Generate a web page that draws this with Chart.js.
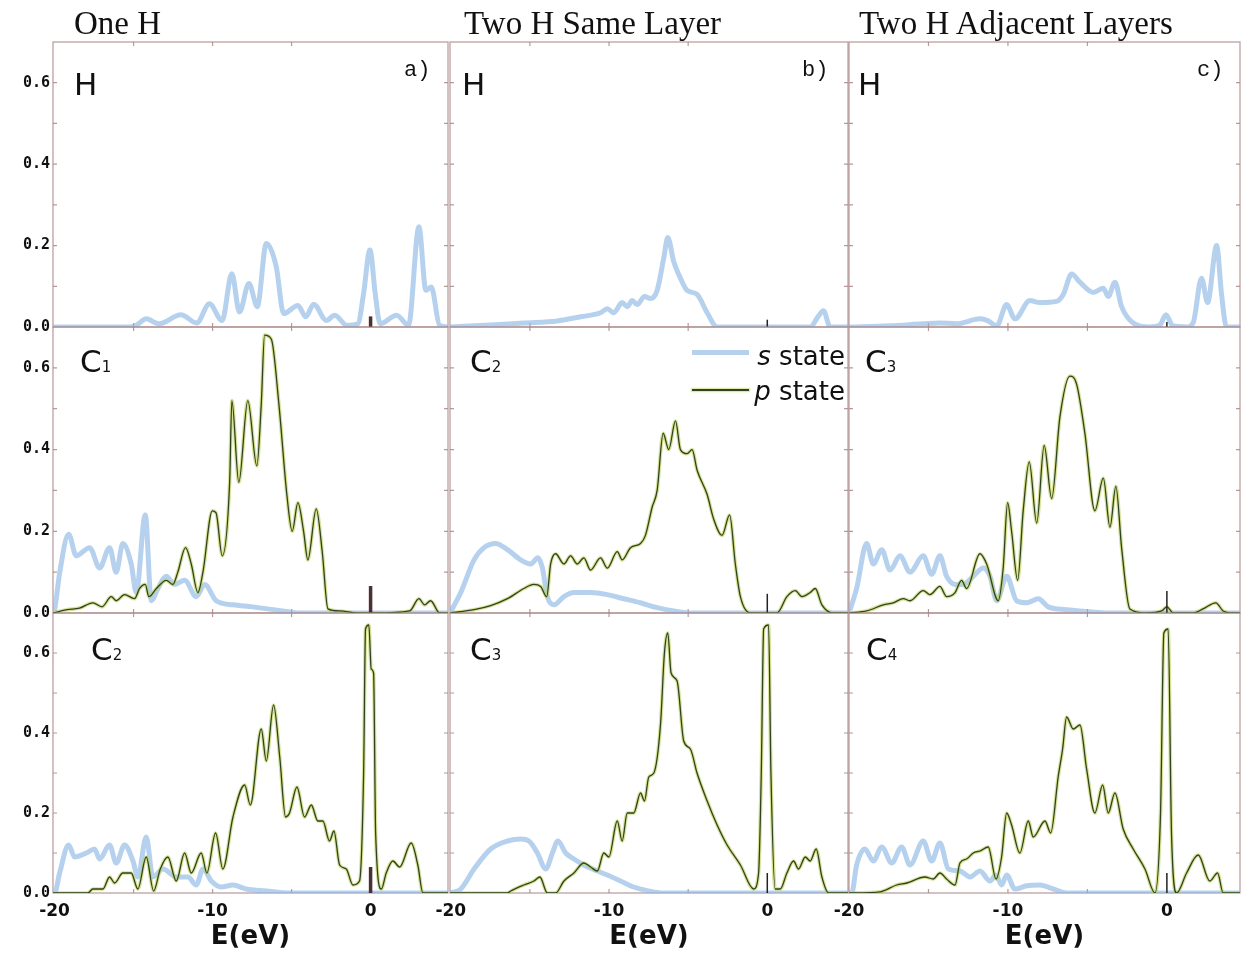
<!DOCTYPE html>
<html>
<head>
<meta charset="utf-8">
<script src="https://cdn.jsdelivr.net/npm/chart.js@4.4.1/dist/chart.umd.min.js"></script>
<style>
  body { margin: 0; width: 1243px; height: 953px; overflow: hidden; background: #fff; position: relative; }
  .box { position: absolute; }
  .title { position: absolute; top: 7px; font-family: "Liberation Serif"; font-size: 33px; line-height: 1; color: #111; white-space: nowrap; }
  .name { position: absolute; font-family: "DejaVu Sans"; font-size: 31px; line-height: 1; color: #111; }
  .name span { font-size: 15px; margin-left: 0; }
  .tag { position: absolute; top: 60px; font-family: "Liberation Mono"; font-size: 22px; line-height: 1; color: #111; }
  .legtxt { position: absolute; right: 398px; font-family: "DejaVu Sans"; font-size: 26px; line-height: 1; color: #111; white-space: nowrap; }
  .legline { position: absolute; left: 692px; width: 57px; }
</style>
</head>
<body>
<script>
// Titles and labels
const colTitles = ['One H', 'Two H Same Layer', 'Two H Adjacent Layers'];
const colTags = ['a)', 'b)', 'c)'];
// panel atom per column, top to bottom: [symbol, subscript]
const panelNames = [
    [['H', ''], ['C', '1'], ['C', '2']],
    [['H', ''], ['C', '2'], ['C', '3']],
    [['H', ''], ['C', '3'], ['C', '4']]
];
const legendNames = [['s', ' state'], ['p', ' state']];

// Axes
const xTicks = [-20, -10, 0];
const xMinor = [-15, -10, -5];
const yTicks = [0, 0.2, 0.4, 0.6];
const yMinor = [0.1, 0.2, 0.3, 0.4, 0.5, 0.6];
const xMin = [-20.1, -20.05, -20];
const xMax = [4.9, 5.1, 4.6];

// Fermi level marker height (col, row)
const fermiTop = [[0.026, 0.066, 0.065], [0.018, 0.047, 0.05], [0.012, 0.054, 0.05]];

// a) One H  -- [E (eV), DOS]
const aH_s = [[-20.1,0],[-15.2,0],[-14.8,0.005],[-14.2,0.02],[-13.4,0.008],[-12.0,0.03],[-11.0,0.01],[-10.2,0.057],[-9.4,0.016],[-8.78,0.131],[-8.3,0.037],[-7.7,0.107],[-7.17,0.05],[-6.6,0.205],[-5.97,0.148],[-5.5,0.033],[-4.6,0.053],[-4.1,0.025],[-3.6,0.056],[-2.8,0.016],[-2.27,0.029],[-1.5,0.004],[-0.8,0.008],[-0.45,0.08],[-0.04,0.189],[0.3,0.08],[0.6,0.008],[1.65,0.029],[2.4,0.004],[3.06,0.246],[3.5,0.09],[3.84,0.098],[4.37,0.004],[4.9,0]];
const aC1_s = [[-20.1,0],[-20,0.008],[-19.68,0.098],[-19.11,0.193],[-18.63,0.14],[-17.78,0.16],[-17.15,0.11],[-16.52,0.16],[-16.1,0.10],[-15.68,0.17],[-15.15,0.12],[-14.83,0.05],[-14.26,0.24],[-13.88,0.03],[-13.46,0.06],[-12.93,0.09],[-12.41,0.07],[-11.77,0.08],[-11.03,0.04],[-10.5,0.07],[-9.77,0.03],[-8.71,0.02],[-7.45,0.015],[-5.57,0.005],[-4.49,0],[4.9,0]];
const aC1_p = [[-20.1,0],[-19.2,0.008],[-18.42,0.012],[-17.58,0.025],[-17.0,0.015],[-16.41,0.04],[-16.1,0.03],[-15.57,0.045],[-14.94,0.035],[-14.62,0.06],[-14.26,0.07],[-14.03,0.04],[-13.56,0.06],[-12.93,0.08],[-12.51,0.07],[-12.2,0.10],[-11.71,0.16],[-11.35,0.12],[-10.93,0.05],[-10.61,0.10],[-10.02,0.25],[-9.78,0.245],[-9.39,0.14],[-8.92,0.32],[-8.78,0.52],[-8.34,0.32],[-7.77,0.52],[-7.2,0.36],[-6.92,0.51],[-6.71,0.68],[-6.28,0.67],[-5.8,0.51],[-5.3,0.29],[-4.96,0.2],[-4.6,0.27],[-4.24,0.2],[-3.97,0.13],[-3.44,0.255],[-3.06,0.15],[-2.7,0.01],[-1.96,0.005],[-0.85,0],[0.36,0],[2.47,0.005],[3.06,0.035],[3.42,0.02],[3.8,0.03],[4.37,0],[4.9,0]];
const aC2_s = [[-20.1,0],[-20,0],[-19.68,0.05],[-19.11,0.12],[-18.73,0.09],[-17.99,0.10],[-17.47,0.11],[-17.15,0.085],[-16.52,0.12],[-16.1,0.075],[-15.57,0.12],[-15.04,0.08],[-14.73,0.04],[-14.2,0.14],[-13.78,0.04],[-13.14,0.06],[-12.3,0.04],[-11.56,0.04],[-11.03,0.02],[-10.61,0.06],[-10.08,0.03],[-9.45,0.015],[-8.71,0.02],[-7.87,0.01],[-6.6,0.005],[-5.13,0],[4.9,0]];
const aC2_p = [[-20.1,0],[-17.89,0],[-17.58,0.01],[-16.94,0.01],[-16.52,0.04],[-16.2,0.025],[-15.68,0.05],[-15.15,0.05],[-14.73,0.01],[-14.2,0.09],[-13.73,0.005],[-13.31,0.06],[-12.83,0.09],[-12.3,0.03],[-11.77,0.10],[-11.35,0.05],[-10.72,0.10],[-10.36,0.05],[-9.81,0.15],[-9.35,0.06],[-8.71,0.19],[-7.97,0.27],[-7.61,0.22],[-6.92,0.41],[-6.6,0.33],[-6.14,0.47],[-5.75,0.34],[-5.38,0.19],[-5.13,0.2],[-4.66,0.265],[-4.18,0.19],[-3.75,0.22],[-3.34,0.18],[-3.02,0.18],[-2.6,0.13],[-2.32,0.155],[-1.96,0.07],[-1.54,0.06],[-1.12,0.02],[-0.7,0.03],[-0.44,0.3],[-0.32,0.66],[-0.11,0.67],[0.04,0.56],[0.19,0.55],[0.32,0.15],[0.68,0.01],[0.99,0.05],[1.41,0.08],[1.84,0.065],[2.57,0.125],[2.99,0.07],[3.31,0],[4.9,0]];

// b) Two H same layer
const bH_s = [[-20.05,0],[-17.48,0.005],[-15.38,0.01],[-13.27,0.015],[-11.8,0.025],[-10.54,0.035],[-10.11,0.045],[-9.7,0.035],[-9.17,0.06],[-8.85,0.05],[-8.54,0.065],[-8.22,0.055],[-7.76,0.075],[-7.38,0.07],[-6.96,0.09],[-6.54,0.17],[-6.29,0.22],[-5.91,0.16],[-5.49,0.12],[-5.07,0.09],[-4.44,0.08],[-3.8,0.035],[-3.17,0],[2.71,0],[3.2,0.025],[3.55,0.04],[3.97,0],[5.1,0]];
const bC2_s = [[-20.05,0],[-19.37,0.05],[-18.53,0.13],[-17.9,0.16],[-17.16,0.17],[-16.42,0.155],[-15.58,0.13],[-14.95,0.12],[-14.49,0.135],[-14.21,0.11],[-13.9,0.04],[-13.48,0.02],[-12.85,0.04],[-12.22,0.05],[-11.17,0.05],[-10.11,0.045],[-9.07,0.035],[-8.01,0.025],[-6.96,0.013],[-5.91,0.005],[-4.86,0],[5.1,0]];
const bC2_p = [[-20.05,0],[-18.53,0.008],[-17.48,0.018],[-16.42,0.035],[-15.38,0.06],[-14.75,0.07],[-14.32,0.065],[-13.94,0.04],[-13.69,0.12],[-13.38,0.145],[-12.85,0.12],[-12.43,0.14],[-12.01,0.12],[-11.59,0.135],[-11.17,0.105],[-10.54,0.135],[-10.11,0.11],[-9.48,0.15],[-9.17,0.13],[-8.64,0.16],[-8.01,0.17],[-7.7,0.19],[-7.27,0.26],[-6.96,0.30],[-6.58,0.44],[-6.23,0.40],[-5.8,0.47],[-5.49,0.40],[-5.07,0.39],[-4.75,0.40],[-4.44,0.35],[-3.8,0.29],[-3.39,0.23],[-2.86,0.19],[-2.38,0.24],[-2.02,0.12],[-1.7,0.04],[-1.07,0],[0.61,0],[1.24,0.04],[1.77,0.055],[2.19,0.04],[2.71,0.05],[3.03,0.06],[3.45,0.02],[4.18,0],[5.1,0]];
const bC3_s = [[-20.05,0],[-19.37,0.01],[-18.53,0.06],[-17.48,0.11],[-16.42,0.13],[-15.58,0.135],[-15.06,0.13],[-14.53,0.1],[-14.0,0.06],[-13.58,0.1],[-13.23,0.13],[-12.74,0.1],[-12.22,0.085],[-11.59,0.07],[-10.74,0.055],[-10.11,0.045],[-9.27,0.03],[-8.44,0.015],[-7.59,0.006],[-6.54,0],[5.1,0]];
const bC3_p = [[-20.05,0],[-16.42,0],[-16.21,0.005],[-15.38,0.02],[-14.75,0.03],[-14.37,0.04],[-13.9,0],[-13.38,0],[-12.85,0.03],[-12.22,0.05],[-11.59,0.075],[-11.17,0.065],[-10.74,0.055],[-10.33,0.1],[-10.01,0.09],[-9.48,0.18],[-9.17,0.13],[-8.85,0.2],[-8.44,0.2],[-8.01,0.25],[-7.76,0.23],[-7.49,0.29],[-7.17,0.3],[-6.75,0.42],[-6.5,0.6],[-6.29,0.65],[-6.08,0.55],[-5.7,0.53],[-5.28,0.38],[-4.86,0.36],[-4.44,0.3],[-3.8,0.23],[-3.17,0.17],[-2.54,0.12],[-1.7,0.07],[-0.86,0.01],[-0.55,0.05],[-0.38,0.3],[-0.23,0.66],[0.08,0.67],[0.23,0.3],[0.5,0.01],[0.82,0.01],[1.24,0.05],[1.66,0.08],[1.97,0.06],[2.4,0.09],[2.71,0.08],[3.09,0.11],[3.45,0.04],[3.87,0],[5.1,0]];

// c) Two H adjacent layers
const cH_s = [[-20,0],[-17.42,0.003],[-15.33,0.008],[-14.28,0.01],[-13.23,0.008],[-11.76,0.02],[-11.24,0.015],[-10.71,0.003],[-10.08,0.055],[-9.56,0.02],[-8.62,0.065],[-7.99,0.06],[-6.94,0.063],[-6.52,0.08],[-5.99,0.13],[-5.47,0.11],[-4.64,0.085],[-4.0,0.095],[-3.69,0.075],[-3.27,0.11],[-2.85,0.05],[-2.12,0.01],[-1.07,0],[-0.44,0.005],[-0.06,0.03],[0.36,0.003],[1.24,0],[1.65,0.01],[2.18,0.12],[2.56,0.06],[3.13,0.2],[3.44,0.08],[3.75,0],[4.6,0]];
const cC3_s = [[-20,0],[-19.52,0.06],[-18.89,0.17],[-18.47,0.12],[-17.94,0.155],[-17.42,0.105],[-16.79,0.14],[-16.16,0.1],[-15.33,0.14],[-14.8,0.095],[-14.28,0.14],[-13.86,0.09],[-13.33,0.07],[-12.81,0.07],[-12.18,0.09],[-11.55,0.11],[-11.13,0.09],[-10.71,0.03],[-10.08,0.09],[-9.45,0.03],[-8.82,0.025],[-8.09,0.035],[-7.47,0.015],[-6.31,0.008],[-4.84,0.003],[-3.79,0],[4.6,0]];
const cC3_p = [[-20,0],[-18.89,0.005],[-17.84,0.02],[-17.21,0.025],[-16.58,0.035],[-16.16,0.03],[-15.33,0.055],[-14.91,0.045],[-14.28,0.065],[-13.86,0.04],[-13.33,0.05],[-12.92,0.08],[-12.6,0.06],[-11.76,0.145],[-11.34,0.12],[-10.61,0.03],[-10.3,0.11],[-10.02,0.27],[-9.77,0.2],[-9.39,0.08],[-9.04,0.25],[-8.66,0.37],[-8.19,0.22],[-7.72,0.41],[-7.25,0.28],[-6.73,0.48],[-6.1,0.58],[-5.68,0.56],[-5.16,0.44],[-4.53,0.25],[-4.0,0.33],[-3.58,0.21],[-3.21,0.31],[-2.85,0.16],[-2.33,0.01],[-1.28,0],[-0.33,0.005],[0,0.015],[0.4,0],[1.65,0],[2.28,0.01],[3.08,0.025],[3.54,0.005],[4.17,0],[4.6,0]];
const cC4_s = [[-20,0],[-19.83,0],[-19.52,0.07],[-19.0,0.11],[-18.47,0.08],[-17.94,0.115],[-17.31,0.075],[-16.69,0.115],[-16.16,0.07],[-15.33,0.13],[-14.8,0.08],[-14.28,0.125],[-13.75,0.06],[-13.02,0.055],[-12.39,0.04],[-11.76,0.055],[-11.13,0.03],[-10.75,0.045],[-10.4,0.02],[-10.08,0.045],[-9.56,0.01],[-8.82,0.018],[-7.99,0.02],[-7.15,0.01],[-6.31,0],[4.6,0]];
const cC4_p = [[-20,0],[-18.05,0.003],[-17.0,0.02],[-16.37,0.025],[-15.22,0.04],[-14.7,0.035],[-14.28,0.05],[-13.86,0.035],[-13.33,0.02],[-13.02,0.075],[-12.6,0.085],[-12.18,0.1],[-11.76,0.105],[-11.24,0.115],[-10.75,0.035],[-10.4,0.09],[-10.08,0.2],[-9.77,0.17],[-9.25,0.1],[-8.72,0.18],[-8.41,0.14],[-7.67,0.18],[-7.31,0.15],[-6.84,0.29],[-6.56,0.36],[-6.31,0.44],[-5.89,0.41],[-5.47,0.42],[-5.05,0.31],[-4.53,0.2],[-4.04,0.27],[-3.69,0.2],[-3.27,0.25],[-2.75,0.16],[-2.12,0.11],[-1.38,0.06],[-0.75,0],[-0.4,0.2],[-0.19,0.65],[0.08,0.66],[0.29,0.15],[0.61,0],[1.24,0.05],[1.97,0.095],[2.7,0.03],[3.19,0.05],[3.54,0],[4.6,0]];

const sStates = [[aH_s, aC1_s, aC2_s], [bH_s, bC2_s, bC3_s], [cH_s, cC3_s, cC4_s]];
const pStates = [[null, aC1_p, aC2_p], [null, bC2_p, bC3_p], [null, cC3_p, cC4_p]];

// Layout (page pixels)
const colL = [53, 450, 849], colR = [448, 848, 1240];
const rowT = [42, 327, 613], rowB = [327, 613, 893];
const PAD = 12;
const titleLeft = [74, 464, 859];
const tagLeft = [404, 802, 1197];
const nameLeft = [[74, 80, 91], [462, 470, 470], [858, 865, 866]];
const nameTop = [69, 346, 634];

const ink = '#111';
const toXY = arr => arr.map(d => ({ x: d[0], y: d[1] }));

// panel frame with small inward ticks
const framePlugin = {
    id: 'frame',
    beforeDatasetsDraw(chart) {
        const { ctx, chartArea: a, scales: { x, y } } = chart;
        ctx.save();
        ctx.strokeStyle = 'rgba(170,135,135,0.85)';
        ctx.lineWidth = 1.2;
        ctx.strokeRect(a.left, a.top, a.right - a.left, a.bottom - a.top);
        ctx.beginPath();
        yMinor.forEach(v => {
            const py = y.getPixelForValue(v);
            ctx.moveTo(a.left, py); ctx.lineTo(a.left + 4, py);
            ctx.moveTo(a.right, py); ctx.lineTo(a.right - 4, py);
        });
        xMinor.forEach(v => {
            const px = x.getPixelForValue(v);
            ctx.moveTo(px, a.top); ctx.lineTo(px, a.top + 4);
            ctx.moveTo(px, a.bottom); ctx.lineTo(px, a.bottom - 4);
        });
        ctx.stroke();
        ctx.restore();
    }
};

function addText(cls, html, left, top) {
    const el = document.createElement('div');
    el.className = cls;
    el.innerHTML = html;
    if (left !== null) el.style.left = left + 'px';
    el.style.top = top + 'px';
    document.body.appendChild(el);
    return el;
}

function makePanel(c, r) {
    const yAxisW = c === 0 ? 53 : 0;
    const padL = c === 0 ? 0 : 24;
    const xAxisH = r === 2 ? 60 : 0;
    const padB = r === 2 ? 0 : PAD;
    const w = colR[c] - colL[c] + yAxisW + padL + PAD;
    const h = rowB[r] - rowT[r] + PAD + padB + xAxisH;

    const box = document.createElement('div');
    box.className = 'box';
    box.style.left = (colL[c] - yAxisW - padL) + 'px';
    box.style.top = (rowT[r] - PAD) + 'px';
    const cv = document.createElement('canvas');
    cv.width = w; cv.height = h;
    cv.style.width = w + 'px'; cv.style.height = h + 'px';
    box.appendChild(cv);
    document.body.appendChild(box);

    const datasets = [{
        data: [{ x: 0, y: 0 }, { x: 0, y: fermiTop[c][r] }],
        borderColor: c === 0 ? '#4a3030' : '#222',
        borderWidth: c === 0 ? 3.5 : 1.5,
        tension: 0
    }];
    const p = pStates[c][r];
    if (p) {
        datasets.push({ data: toXY(p), borderColor: '#2c4420', borderWidth: 1.3, cubicInterpolationMode: 'monotone' });
        datasets.push({ data: toXY(p), borderColor: 'rgba(190,205,80,0.6)', borderWidth: 3.6, cubicInterpolationMode: 'monotone' });
    }
    datasets.push({ data: toXY(sStates[c][r]), borderColor: 'rgba(135,180,228,0.62)', borderWidth: 5, cubicInterpolationMode: 'monotone' });

    new Chart(cv, {
        type: 'line',
        data: { datasets: datasets },
        options: {
            responsive: false,
            animation: false,
            layout: { padding: { left: padL, right: PAD, top: PAD, bottom: padB } },
            elements: { point: { radius: 0 }, line: { fill: false } },
            plugins: { legend: { display: false }, tooltip: { enabled: false } },
            scales: {
                x: {
                    type: 'linear',
                    min: xMin[c],
                    max: xMax[c],
                    display: r === 2,
                    afterFit: sc => { sc.height = xAxisH; },
                    afterBuildTicks: sc => { sc.ticks = xTicks.map(v => ({ value: v })); },
                    grid: { display: false, drawTicks: false },
                    border: { display: false },
                    ticks: {
                        autoSkip: false, maxRotation: 0, padding: 8, color: ink,
                        font: { family: 'DejaVu Sans', size: 17, weight: 'bold' },
                        callback: v => String(v)
                    },
                    title: {
                        display: true, text: 'E(eV)', color: ink, padding: 0,
                        font: { family: 'DejaVu Sans', size: 26, weight: 'bold' }
                    }
                },
                y: {
                    type: 'linear',
                    min: 0,
                    max: 0.7,
                    display: c === 0,
                    afterFit: sc => { sc.width = yAxisW; },
                    afterBuildTicks: sc => { sc.ticks = yTicks.map(v => ({ value: v })); },
                    grid: { display: false, drawTicks: false },
                    border: { display: false },
                    ticks: {
                        padding: 3, color: ink,
                        font: { family: 'DejaVu Sans Mono', size: 15, weight: 'bold' },
                        callback: v => v.toFixed(1)
                    }
                }
            }
        },
        plugins: [framePlugin]
    });
}

for (let c = 0; c < 3; c++) {
    for (let r = 0; r < 3; r++) makePanel(c, r);
}

// column titles, tags and atom labels
colTitles.forEach((t, c) => addText('title', t, titleLeft[c], 7));
colTags.forEach((t, c) => addText('tag', t, tagLeft[c], 60));
panelNames.forEach((col, c) => col.forEach((n, r) => {
    addText('name', n[0] + (n[1] ? '<span>' + n[1] + '</span>' : ''), nameLeft[c][r], nameTop[r]);
}));

// legend inside the middle panel
addText('legtxt', '<i>' + legendNames[0][0] + '</i>' + legendNames[0][1], null, 343);
addText('legtxt', '<i>' + legendNames[1][0] + '</i>' + legendNames[1][1], null, 378);
const ls = addText('legline', '', 692, 350);
ls.style.height = '5px';
ls.style.background = 'rgba(135,180,228,0.62)';
const lp = addText('legline', '', 692, 389);
lp.style.height = '1.5px';
lp.style.background = '#2c4420';
lp.style.boxShadow = '0 0 1.5px 1px rgba(190,205,80,0.6)';
</script>
</body>
</html>
